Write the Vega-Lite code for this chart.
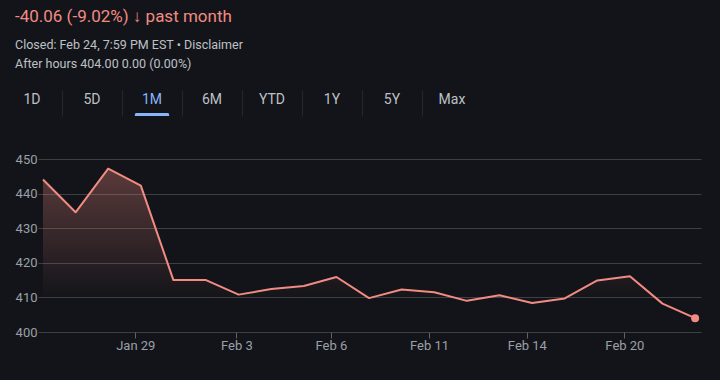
{
  "$schema": "https://vega.github.io/schema/vega-lite/v6.json",
  "background": "#131419",
  "padding": {"left": 2, "top": 7, "right": 19, "bottom": 28},
  "title": {
    "text": "-40.06 (-9.02%) ↓ past month",
    "subtitle": ["Closed: Feb 24, 7:59 PM EST • Disclaimer", "After hours 404.00 0.00 (0.00%)"],
    "anchor": "start",
    "dx": 13,
    "font": "Roboto",
    "fontSize": 17,
    "fontWeight": "normal",
    "color": "#f28b82",
    "subtitleFont": "Roboto",
    "subtitleFontSize": 12.5,
    "subtitleColor": "#bdc1c6",
    "subtitleLineHeight": 19,
    "subtitlePadding": 13,
    "offset": 19
  },
  "config": {"view": {"stroke": null}, "font": "Roboto"},
  "columns": 1,
  "spacing": 37,
  "concat": [
    {
      "width": 444,
      "height": 26,
      "data": {"values": [
        {"tab": "1D"}, {"tab": "5D"}, {"tab": "1M"}, {"tab": "6M"},
        {"tab": "YTD"}, {"tab": "1Y"}, {"tab": "5Y"}, {"tab": "Max"}
      ]},
      "layer": [
        {
          "mark": {"type": "text", "font": "Roboto", "fontSize": 14, "baseline": "middle", "align": "center"},
          "encoding": {
            "x": {
              "field": "tab", "type": "nominal", "sort": null, "bandPosition": 0.5,
              "scale": {"type": "band", "paddingInner": 0, "paddingOuter": 0, "range": [-36, 444]},
              "axis": {
                "title": null, "labels": false, "ticks": false, "domain": false,
                "grid": true, "bandPosition": 0,
                "gridColor": {"condition": {"test": "datum.value === '1D'", "value": "transparent"}, "value": "#25272c"},
                "gridWidth": 1, "minExtent": 0, "maxExtent": 0
              }
            },
            "y": {"datum": 0.6, "type": "quantitative", "scale": {"domain": [0, 1], "nice": false, "zero": false}, "axis": null},
            "text": {"field": "tab"},
            "color": {"condition": {"test": "datum.tab === '1M'", "value": "#8ab4f8"}, "value": "#bdc1c6"}
          }
        },
        {
          "transform": [{"filter": "datum.tab === '1M'"}],
          "mark": {"type": "bar", "width": {"band": 0.57}, "cornerRadiusTopLeft": 3, "cornerRadiusTopRight": 3, "color": "#8ab4f8"},
          "encoding": {
            "x": {"field": "tab", "type": "nominal", "sort": null, "scale": {"type": "band", "paddingInner": 0, "paddingOuter": 0, "range": [-36, 444]}},
            "y": {"datum": 0, "type": "quantitative"},
            "y2": {"datum": 0.115}
          }
        }
      ]
    },
    {
      "width": 663,
      "height": 173,
      "data": {"values": [
        {"i": 0, "price": 444.06},
        {"i": 1, "price": 434.6},
        {"i": 2, "price": 447.2},
        {"i": 3, "price": 442.3},
        {"i": 4, "price": 415.0},
        {"i": 5, "price": 415.0},
        {"i": 6, "price": 410.8},
        {"i": 7, "price": 412.4},
        {"i": 8, "price": 413.3},
        {"i": 9, "price": 415.9},
        {"i": 10, "price": 409.8},
        {"i": 11, "price": 412.3},
        {"i": 12, "price": 411.5},
        {"i": 13, "price": 409.0},
        {"i": 14, "price": 410.6},
        {"i": 15, "price": 408.4},
        {"i": 16, "price": 409.7},
        {"i": 17, "price": 414.9},
        {"i": 18, "price": 416.1},
        {"i": 19, "price": 408.2},
        {"i": 20, "price": 404.0}
      ]},
      "encoding": {
        "x": {
          "field": "i", "type": "quantitative",
          "scale": {"domain": [-0.153, 20.18], "nice": false, "zero": false},
          "axis": {
            "title": null,
            "values": [2.83, 5.93, 8.83, 11.84, 14.84, 17.83],
            "labelExpr": "datum.value < 4 ? 'Jan 29' : datum.value < 7 ? 'Feb 3' : datum.value < 10 ? 'Feb 6' : datum.value < 13 ? 'Feb 11' : datum.value < 16 ? 'Feb 14' : 'Feb 20'",
            "grid": false, "domain": false,
            "tickColor": "#5f6368", "tickSize": 6,
            "labelColor": "#9aa0a6", "labelFontSize": 13, "labelFont": "Roboto",
            "labelPadding": 1, "labelFlush": false, "labelOverlap": false
          }
        },
        "y": {
          "field": "price", "type": "quantitative",
          "scale": {"domain": [400, 450], "nice": false, "zero": false},
          "axis": {
            "title": null,
            "values": [400, 410, 420, 430, 440, 450],
            "grid": true, "gridColor": "#3c4043", "gridWidth": 1,
            "domain": false, "ticks": false, "tickSize": 0,
            "labelColor": "#9aa0a6", "labelFontSize": 13, "labelFont": "Roboto",
            "labelPadding": 1, "minExtent": 36
          }
        }
      },
      "layer": [
        {
          "mark": {
            "type": "area",
            "color": {
              "gradient": "linear", "x1": 0, "y1": 0, "x2": 0, "y2": 1,
              "stops": [
                {"offset": 0, "color": "rgba(242,139,130,0.32)"},
                {"offset": 0.8, "color": "rgba(242,139,130,0)"}
              ]
            }
          },
          "encoding": {"y2": {"datum": 400}}
        },
        {
          "mark": {"type": "line", "color": "#f28b82", "strokeWidth": 2, "strokeJoin": "round"}
        },
        {
          "transform": [{"filter": "datum.i === 20"}],
          "mark": {"type": "circle", "size": 64, "color": "#f28b82", "opacity": 1}
        }
      ]
    }
  ]
}
